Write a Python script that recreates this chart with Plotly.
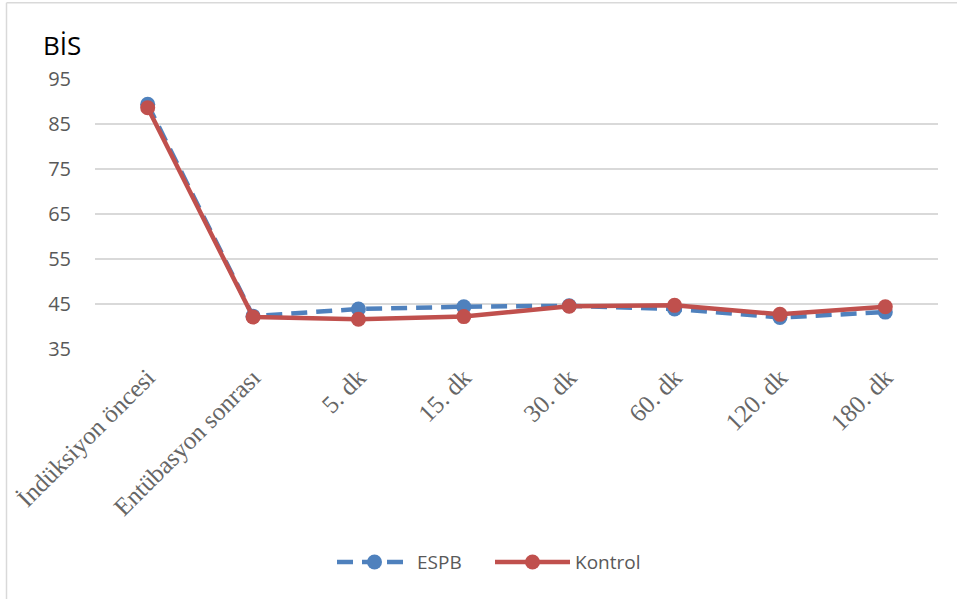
import plotly.graph_objects as go

# Measurement time points and mean BIS values per group
time_points = ["İndüksiyon öncesi", "Entübasyon sonrası", "5. dk", "15. dk",
               "30. dk", "60. dk", "120. dk", "180. dk"]
espb_values = [89.4, 42.3, 43.9, 44.4, 44.6, 43.9, 42.0, 43.2]
kontrol_values = [88.6, 42.1, 41.6, 42.2, 44.5, 44.7, 42.7, 44.4]
y_ticks = [35, 45, 55, 65, 75, 85, 95]

fig = go.Figure()

fig.add_trace(go.Scatter(
    x=time_points, y=espb_values, name="ESPB", mode="lines+markers",
    line=dict(color="#4F81BD", width=4.5, dash="16px,9px"),
    marker=dict(color="#4F81BD", size=15),
))
fig.add_trace(go.Scatter(
    x=time_points, y=kontrol_values, name="Kontrol", mode="lines+markers",
    line=dict(color="#C0504D", width=4.5),
    marker=dict(color="#C0504D", size=15),
))

# Plot area spans x 95..938 px and y 79..349.5 px
left, right, top, bottom = 95, 938, 79, 349.5
pw, ph = right - left, bottom - top

def px_x(v):
    return (v - left) / pw

def px_y(v):
    return (bottom - v) / ph

fig.update_layout(
    width=957, height=600,
    margin=dict(l=left, r=957 - right, t=top, b=600 - bottom, pad=0),
    paper_bgcolor="white", plot_bgcolor="white",
    showlegend=True,
    legend=dict(orientation="h", x=px_x(490), xanchor="center",
                y=px_y(563), yanchor="middle",
                font=dict(family="Open Sans", size=19, color="#595959"),
                itemwidth=75, entrywidth=68, traceorder="normal"),
    font=dict(family="Open Sans", color="#595959"),
    shapes=[
        dict(type="line", xref="paper", yref="paper",
             x0=px_x(6.5), x1=px_x(6.5), y0=px_y(2.5), y1=px_y(600),
             line=dict(color="#D9D9D9", width=1.5)),
        dict(type="line", xref="paper", yref="paper",
             x0=px_x(6.5), x1=px_x(957), y0=px_y(2.5), y1=px_y(2.5),
             line=dict(color="#D9D9D9", width=1.5)),
    ],
    annotations=[
        dict(text="BİS", xref="paper", yref="paper", x=px_x(62), y=px_y(45),
             xanchor="center", yanchor="middle", showarrow=False,
             font=dict(family="Open Sans", size=26, color="black")),
    ],
)

fig.update_xaxes(
    type="category", range=[-0.5, len(time_points) - 0.5],
    showgrid=False, showline=False, zeroline=False, ticks="",
    tickangle=-45, ticklabelstandoff=8,
    tickfont=dict(family="Liberation Serif", size=25, color="#666666"),
)
fig.update_yaxes(
    range=[35, 95], tickvals=y_ticks, showgrid=True, gridcolor="#D9D9D9",
    gridwidth=1.5, zeroline=False, showline=False, ticks="",
    ticklabelstandoff=23,
    tickfont=dict(family="Open Sans", size=20, color="#595959"),
)

fig.write_html("out.html")
